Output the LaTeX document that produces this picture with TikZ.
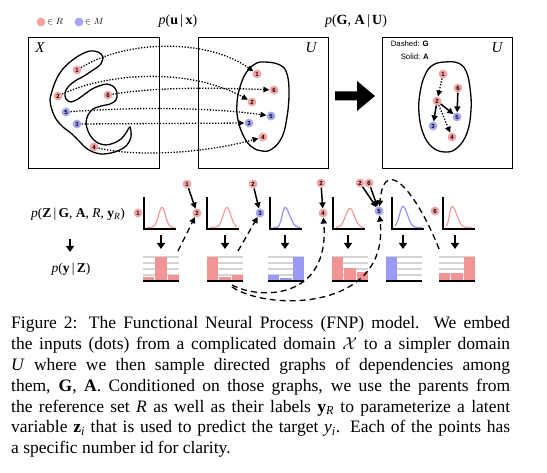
\documentclass[tikz,border=0pt]{standalone}
\usepackage{fontspec}
\setmainfont{Liberation Serif}
\newfontfamily\hv{Liberation Sans}
\usetikzlibrary{arrows.meta}
\definecolor{rdot}{HTML}{F4A3A3}
\definecolor{bdot}{HTML}{A6A6F6}
\definecolor{rbar}{HTML}{F29494}
\definecolor{bbar}{HTML}{9A9AF6}
\definecolor{rcur}{HTML}{F49A9A}
\definecolor{bcur}{HTML}{9494F8}
\definecolor{gridc}{HTML}{D4D4D4}
\newcommand{\mybars}[5]{%
  \foreach \gy in {257,263,269,275} \draw[gridl] (#1,\gy) -- ++(36,0);
  \fill[#2] (#1,281) rectangle ++(11.3,{#3-281});
  \fill[#2] ({#1+12.3},281) rectangle ++(11.3,{#4-281});
  \fill[#2] ({#1+24.6},281) rectangle ++(11.4,{#5-281});
  \draw[line width=1.3pt] (#1,281) -- ++(36,0);
}
\newcommand{\myaxes}[1]{\draw[line width=1.5pt] (#1,197) -- (#1,229) -- ({#1+32},229);}
\begin{document}
\begin{tikzpicture}[x=1pt,y=-1pt,
 rd/.style={circle, fill=rdot, inner sep=0pt, minimum size=8.8pt, font=\hv\bfseries\fontsize{6}{6}\selectfont},
 bd/.style={rd, fill=bdot},
 frame/.style={draw, line width=0.9pt},
 blob/.style={draw, line width=1.3pt},
 dotarr/.style={line width=1.3pt, dash pattern=on 1.3pt off 1.6pt, -{Triangle[length=6pt,width=5.5pt]}},
 solarr/.style={line width=1.5pt, -{Triangle[length=6pt,width=6pt]}},
 dasharr/.style={line width=1.3pt, dash pattern=on 6pt off 4pt, -{Triangle[length=6pt,width=6pt]}},
 downarr/.style={line width=2.2pt, -{Triangle[length=6pt,width=8pt]}},
 gridl/.style={draw=gridc, line width=1.4pt},
 rcurve/.style={draw=rcur, line width=1.2pt},
 bcurve/.style={draw=bcur, line width=1.2pt},
 lab/.style={font=\fontsize{14}{14}\selectfont},
 ]
\useasboundingbox (0,0) rectangle (547,473);

% legend
\node[rd] (lr) at (41,22) {};
\node[anchor=west, font=\fontsize{9}{9}\selectfont, inner sep=1pt] (lrt) at (46,22) {$\in R$};
\node[bd] (lb) at (79,22) {};
\node[anchor=west, font=\fontsize{9}{9}\selectfont, inner sep=1pt] (lbt) at (84,22) {$\in M$};

% top labels
\node[lab] (pux) at (178,21) {\textit{p}(\textbf{u}\,|\,\textbf{x})};
\node[lab] (pga) at (356,21) {\textit{p}(\textbf{G}, \textbf{A}\,|\,\textbf{U})};

% boxes
\node[frame, minimum width=131pt, minimum height=131pt] (bx) at (93.5,102.5) {};
\node[frame, minimum width=130pt, minimum height=131pt] (bu) at (263,102.5) {};
\node[frame, minimum width=130pt, minimum height=131pt] (bv) at (447,102.5) {};
\node[font=\fontsize{15}{15}\selectfont\itshape] (lx) at (40,48) {X};
\node[font=\fontsize{15}{15}\selectfont\itshape] (lu) at (311,48) {U};
\node[font=\fontsize{15}{15}\selectfont\itshape] (lv) at (497,48) {U};

% blob X
\draw[blob] plot[smooth cycle, tension=0.55] coordinates {
 (103,57) (98,52) (90,51) (80,55) (70,62) (62,70) (57,78) (53,88) (50,100) (52,110) (56,119)
 (63,127) (72,134) (79,141) (86,148) (93,152) (101,154) (111,153) (120,150) (127,145) (131,137) (130,127)
 (126,133) (121,139) (114,143) (106,145) (98,143) (92,138) (88,131) (86,123) (88,115) (93,109) (101,106) (110,104)
 (116,100) (117,93) (114,87) (107,84) (99,86) (92,89) (85,94) (78,99) (71,102) (66,99) (65,93) (68,87)
 (75,81) (84,76) (93,70) (100,65)};
% blob U middle
\draw[blob] plot[smooth cycle, tension=0.7] coordinates {
 (265,62) (280,65) (287,74) (289,93) (287,117) (282,137) (272,149) (262,151) (252,147) (244,137)
 (238,120) (237,103) (240,87) (246,73) (255,64)};
% blob U right
\draw[blob] plot[smooth cycle, tension=0.7] coordinates {
 (445,62) (458,63) (466,71) (470,88) (471,110) (467,133) (457,148) (445,152) (432,147) (423,133)
 (419,113) (420,93) (425,75) (433,65)};

% dots X
\node[rd] (x1) at (77,70) {1};
\node[rd] (x2) at (58,96) {2};
\node[rd] (x6) at (108,95) {6};
\node[bd] (x5) at (66,112) {5};
\node[bd] (x3) at (77,124) {3};
\node[rd] (x4) at (94,147) {4};
% dots U middle
\node[rd] (u1) at (257,74) {1};
\node[rd] (u6) at (274,90) {6};
\node[rd] (u2) at (252,102) {2};
\node[bd] (u5) at (271,116) {5};
\node[bd] (u3) at (249,123) {3};
\node[rd] (u4) at (263,137) {4};
% dots U right
\node[rd] (v1) at (443,74) {1};
\node[rd] (v6) at (458,88) {6};
\node[rd] (v2) at (437,101) {2};
\node[bd] (v5) at (457,117) {5};
\node[bd] (v3) at (433,126) {3};
\node[rd] (v4) at (452,137) {4};

% embedding arrows
\draw[dotarr] (x1) .. controls (130,38) and (210,40) .. (u1);
\draw[dotarr] (x2) .. controls (110,72) and (190,68) .. (u2);
\draw[dotarr] (x6) .. controls (150,88) and (200,87) .. (u6);
\draw[dotarr] (x5) .. controls (120,108) and (200,106) .. (u5);
\draw[dotarr] (x3) -- (u3);
\draw[dotarr] (x4) .. controls (140,158) and (210,152) .. (u4);

% big arrow
\fill (335,91.5) -- (357,91.5) -- (357,81) -- (375,96) -- (357,111) -- (357,100.5) -- (335,100.5) -- cycle;

% graph labels
\node[anchor=east, font=\hv\fontsize{7.8}{7.8}\selectfont, inner sep=0pt] (gd) at (429,44) {Dashed: \textbf{G}};
\node[anchor=east, font=\hv\fontsize{7.8}{7.8}\selectfont, inner sep=0pt] (gs) at (429,57) {Solid: \textbf{A}};

% graph edges
\draw[dotarr] (v1) -- (v2);
\draw[dotarr] (v2) -- (v4);
\draw[solarr] (v2) -- (v5);
\draw[solarr] (v2) -- (v3);
\draw[solarr] (v6) -- (v5);

% bottom labels
\node[font=\fontsize{13.5}{13.5}\selectfont] (pz) at (78,214) {\textit{p}(\textbf{Z}\,|\,\textbf{G}, \textbf{A}, \textit{R}, \textbf{y}\textsubscript{\textit{R}})};
\node[font=\fontsize{13.5}{13.5}\selectfont] (py) at (71,269) {\textit{p}(\textbf{y}\,|\,\textbf{Z})};
\coordinate (la1) at (70,239);
\coordinate (la2) at (70,252);
\draw[downarr] (la1) -- (la2);

% plots
\myaxes{144} \myaxes{207} \myaxes{270} \myaxes{333} \myaxes{392} \myaxes{443}
\draw[rcurve] plot[domain=147:175, samples=60, smooth] (\x,{227.5-20*exp(-(\x-162)*(\x-162)/24)});
\draw[rcurve] plot[domain=210:237, samples=60, smooth] (\x,{227.5-20*exp(-(\x-227)*(\x-227)/30)});
\draw[bcurve] plot[domain=273:300, samples=60, smooth] (\x,{227.5-20*exp(-(\x-285)*(\x-285)/(\x<285 ? 16 : 45))});
\draw[rcurve] plot[domain=336:364, samples=60, smooth] (\x,{227.5-19*exp(-(\x-350)*(\x-350)/40)});
\draw[bcurve] plot[domain=395:422, samples=60, smooth] (\x,{227.5-21*exp(-(\x-403)*(\x-403)/(\x<403 ? 25 : 40))});
\draw[rcurve] plot[domain=446:472, samples=60, smooth] (\x,{227.5-21*exp(-(\x-452)*(\x-452)/(\x<452 ? 12 : 45))});

% down arrows
\foreach \ax [count=\i] in {161,225,285,348,403,455} {
  \coordinate (da\i) at (\ax,235);
  \coordinate (db\i) at (\ax,249);
  \draw[downarr] (da\i) -- (db\i);
}

% bars
\mybars{143}{rbar}{277}{257}{275}
\mybars{207}{rbar}{257}{277}{275}
\mybars{268}{bbar}{275}{278}{257}
\mybars{332}{rbar}{257}{268}{272}
\mybars{386}{bbar}{257}{280}{280}
\mybars{439}{rbar}{273}{273}{257}

% bottom dots
\node[rd] (b1) at (138,213) {1};
\node[rd] (p21) at (187,184) {1};
\node[rd] (b2) at (197,213) {2};
\node[rd] (p32) at (253,184) {2};
\node[bd] (b3) at (260,213) {3};
\node[rd] (p42) at (321,183) {2};
\node[rd] (b4) at (323,213) {4};
\node[rd] (p52) at (360,183) {2};
\node[rd] (p56) at (369,183) {6};
\node[bd] (b5) at (379,211) {5};
\node[rd] (b6) at (435,211) {6};

\draw[solarr] (p21) -- (b2);
\draw[solarr] (p32) -- (b3);
\draw[solarr] (p42) -- (b4);
\draw[solarr] (p52) -- (b5);
\draw[solarr] (p56) -- (b5);

% label dependencies
\coordinate (y1) at (178,251);
\coordinate (y2a) at (238,251);
\coordinate (y2b) at (232,285);
\coordinate (y2c) at (232,287);
\coordinate (y6) at (439,249);
\draw[dasharr] (y1) -- (b2);
\draw[dasharr] (y2a) -- (b3);
\draw[dasharr] (y2b) .. controls (260,300) and (330,300) .. (b4);
\draw[dasharr] (y2c) .. controls (270,312) and (390,310) .. (b5);
\draw[dasharr] (y6) .. controls (420,200) and (385,150) .. (b5);

% caption
\begin{scope}[every node/.style={anchor=base west, inner sep=0pt, font=\fontsize{17.5}{21}\selectfont}]
\node (c1) at (11,329) {\makebox[499pt][s]{Figure 2: The Functional Neural Process (FNP) model. We embed}};
\node (c2) at (11,349.8) {\makebox[499pt][s]{the inputs (dots) from a complicated domain $\mathcal{X}$ to a simpler domain}};
\node (c3) at (11,370.6) {\makebox[499pt][s]{\textit{U} where we then sample directed graphs of dependencies among}};
\node (c4) at (11,391.4) {\makebox[499pt][s]{them, \textbf{G}, \textbf{A}. Conditioned on those graphs, we use the parents from}};
\node (c5) at (11,412.2) {\makebox[499pt][s]{the reference set \textit{R} as well as their labels \textbf{y}\textsubscript{\textit{R}} to parameterize a latent}};
\node (c6) at (11,433) {\makebox[499pt][s]{variable \textbf{z}\textsubscript{\textit{i}} that is used to predict the target \textit{y}\textsubscript{\textit{i}}. Each of the points has}};
\node (c7) at (11,453.8) {a specific number id for clarity.};
\end{scope}
\end{tikzpicture}
\end{document}
